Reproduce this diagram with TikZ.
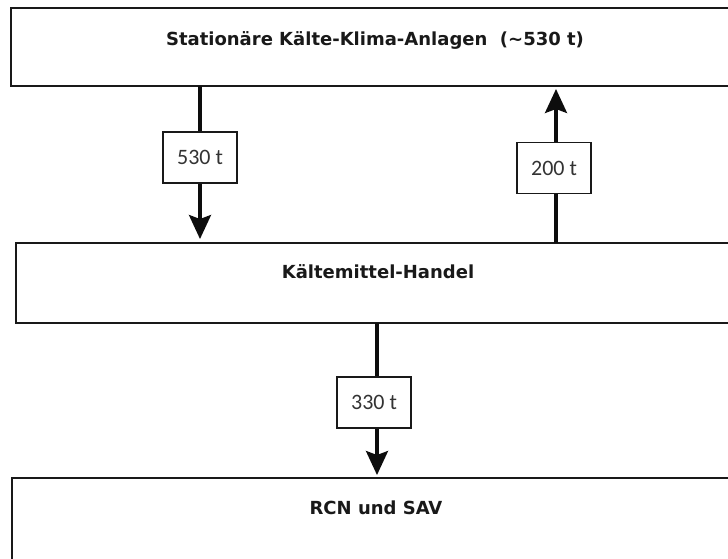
\documentclass[tikz,border=0pt]{standalone}
\usepackage{fontspec}
\setmainfont{DejaVu Sans}
\newfontfamily\labelfont{Carlito}
\usetikzlibrary{arrows.meta}
\begin{document}
\begin{tikzpicture}[x=1pt,y=-1pt,
  bigbox/.style={draw=black!90,line width=2pt,rectangle,inner sep=0pt},
  titletext/.style={font=\bfseries\fontsize{18}{21}\selectfont,inner sep=0pt,text=black!90},
  flowlabel/.style={draw=black!90,fill=white,line width=1.6pt,rectangle,inner sep=0pt,minimum width=74pt,minimum height=51pt,font=\labelfont\fontsize{22}{25}\selectfont,text=black!80},
  flow/.style={line width=3.2pt,draw=black!95,-{Stealth[length=24pt,width=22pt,inset=4pt]}}]
\useasboundingbox (0,0) rectangle (728,558);
\clip (0,0) rectangle (728,558);
\fill[white] (0,0) rectangle (728,558);
% boxes
\node[bigbox,minimum width=729pt,minimum height=78pt] (top) at (375.5,47) {};
\node[bigbox,minimum width=724pt,minimum height=80pt] (mid) at (378,283) {};
\node[bigbox,minimum width=728pt,minimum height=92pt] (bot) at (376,524) {};
\node[titletext] (toptext) at (375,40) {Stationäre Kälte-Klima-Anlagen \ (\textasciitilde530 t)};
\node[titletext] (midtext) at (378,272) {Kältemittel-Handel};
\node[titletext] (bottext) at (376,508) {RCN und SAV};
% connector endpoints
\coordinate (a1s) at (200,86);
\coordinate (a1e) at (200,239);
\coordinate (a2s) at (556,243);
\coordinate (a2e) at (556,89);
\coordinate (a3s) at (377,323);
\coordinate (a3e) at (377,475);
\draw[flow] (a1s) -- (a1e);
\draw[flow] (a2s) -- (a2e);
\draw[flow] (a3s) -- (a3e);
% labels
\node[flowlabel] (l1) at (200,157.5) {530 t};
\node[flowlabel] (l2) at (554,168) {200 t};
\node[flowlabel] (l3) at (374,402.5) {330 t};
\end{tikzpicture}
\end{document}
